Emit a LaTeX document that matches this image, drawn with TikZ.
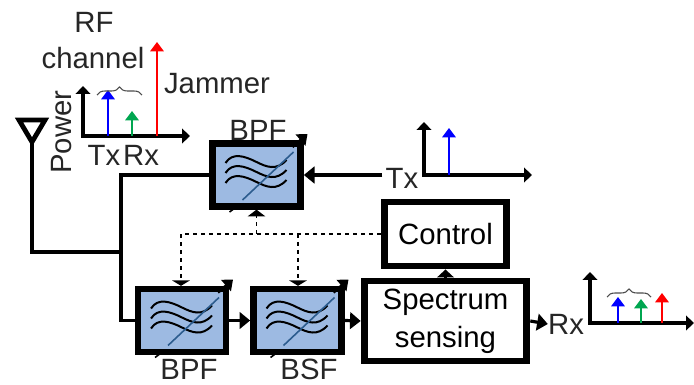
\documentclass[tikz,border=0pt]{standalone}
\usepackage{fontspec}
\setmainfont{Liberation Sans}
\usetikzlibrary{arrows.meta,decorations.pathreplacing}

\definecolor{filterblue}{HTML}{9DBAE2}
\definecolor{diagblue}{HTML}{2C5C8E}
\definecolor{rxgreen}{HTML}{00A650}
\definecolor{txtgray}{HTML}{262626}

\tikzset{
    lbl/.style={inner sep=0pt, text=txtgray, font=\fontsize{22}{28.5}\selectfont},
    wire/.style={line width=2.4pt},
    sighead/.style={-{Triangle[length=7.5pt,width=11pt]}},
    bighead/.style={-{Triangle[length=8pt,width=12.5pt]}},
    axis/.style={wire, {Triangle[length=6pt,width=11pt]}-{Triangle[length=6pt,width=11pt]}},
    tone/.style={line width=2.2pt, -{Triangle[length=7pt,width=10pt]}},
    sbrace/.style={draw=black!70, line width=0.8pt, decorate, decoration={brace,amplitude=6pt}},
    filterbox/.style={draw, fill=filterblue, line width=5pt, minimum width=66pt, minimum height=47pt, inner sep=0pt},
    blockbox/.style={draw, fill=white, line width=5.2pt, inner sep=0pt, align=center, lbl, text=black},
    filtericon/.pic={
        \foreach \dy in {-10,0,10}
            \draw[line width=1.5pt, black] (-31,-2+\dy) .. controls (-24,-13+\dy) and (-12,-9+\dy) .. (0,-3+\dy)
                .. controls (10,2+\dy) and (20,6+\dy) .. (30,-5+\dy);
        \draw[line width=1.2pt, diagblue] (-14,25) -- (37,-23);
        \draw[line width=2pt, -{Triangle[length=7pt,width=11pt]}] (36,-28) -- (51,-41);
        \draw[line width=1.2pt] (-27,37) -- (-19,31);
    }
}

\begin{document}
\begin{tikzpicture}[x=0.75pt,y=-0.75pt]
\useasboundingbox (0,0) rectangle (694,385);

\node[filterbox] (bpftop) at (256.5,175) {};
\node[filterbox] (bpfbot) at (182,320.5) {};
\node[filterbox] (bsf) at (297.5,320.5) {};
\node[blockbox, minimum width=92pt, minimum height=48pt] (control) at (445.5,234) {Control};
\node[blockbox, minimum width=122pt, minimum height=60pt] (sensing) at (445.5,321) {Spectrum\\sensing};

\pic at (bpftop) {filtericon};
\pic at (bpfbot) {filtericon};
\pic at (bsf) {filtericon};

\node[lbl] (bpftoplbl) at (258,130) {BPF};
\node[lbl] (bpfbotlbl) at (189,369) {BPF};
\node[lbl] (bsflbl) at (309,369) {BSF};
\node[lbl] (txlbl) at (402,178) {Tx};
\node[lbl] (rxlbl) at (566,324) {Rx};

\coordinate (antenna) at (32,142);
\coordinate (ant1) at (32,252);
\coordinate (split) at (121,252);
\coordinate (up) at (121,175);
\coordinate (down) at (121,320.5);
\coordinate (dash1) at (181,234);
\coordinate (dash2) at (256.5,234);
\coordinate (dash3) at (298,234);

% antenna and signal path
\draw[line width=3.6pt, line join=miter] (19,120) -- (45,120) -- (antenna) -- cycle;
\draw[wire] (antenna) -- (ant1) -- (split);
\draw[wire] (bpftop.west) -- (up) -- (down) -- (bpfbot.west);
\draw[wire, bighead] (txlbl.west) ++(-3,-3) -- (bpftop.east);
\draw[wire, bighead] (bpfbot.east) -- (bsf.west);
\draw[wire, bighead] (bsf.east) -- (sensing.west);
\draw[wire, bighead] (sensing.east) -- (rxlbl.west);
\draw[wire, -{Triangle[length=6pt,width=12.5pt]}] (sensing.north) -- (control.south);

% control lines
\draw[line width=1.4pt, dashed, -{Triangle[length=4pt,width=13pt]}] (control.west) -- (dash1) -- (bpfbot.north -| dash1);
\draw[line width=1.4pt, dashed, -{Triangle[length=4pt,width=13pt]}] (dash3) -- (bsf.north -| dash3);
\draw[line width=1.4pt, dashed, -{Triangle[length=5pt,width=13pt]}] (dash2) -- (bpftop.south -| dash2);

% input spectrum
\draw[axis] (83,86) coordinate (y1) -- (83,136) coordinate (o1) -- (190,136) coordinate (x1);
\draw[tone, blue] (108,136) -- (108,90);
\draw[tone, rxgreen] (132,136) -- (132,111);
\draw[tone, red] (157,136) -- (157,42);
\draw[sbrace] (97,95) coordinate (b1) -- (142,95) coordinate (b2);
\node[lbl] (rflbl) at (94,22) {RF};
\node[lbl] (chlbl) at (93,58) {channel};
\node[lbl] (jamlbl) at (217,84) {Jammer};
\node[lbl, rotate=90] (powlbl) at (62,132) {Power};
\node[lbl] (txtick) at (104,155) {Tx};
\node[lbl] (rxtick) at (141,155) {Rx};

% tx spectrum
\draw[axis] (424,122) coordinate (y2) -- (424,175) coordinate (o2) -- (532,175) coordinate (x2);
\draw[tone, blue] (449,175) -- (449,128);

% rx spectrum
\draw[axis] (590,272) coordinate (y3) -- (590,323) coordinate (o3) -- (694,323) coordinate (x3);
\draw[tone, blue] (618,323) -- (618,297);
\draw[tone, rxgreen] (641,323) -- (641,299);
\draw[tone, red] (662,323) -- (662,293);
\draw[sbrace] (607,297) coordinate (b3) -- (651,297) coordinate (b4);
\end{tikzpicture}
\end{document}
